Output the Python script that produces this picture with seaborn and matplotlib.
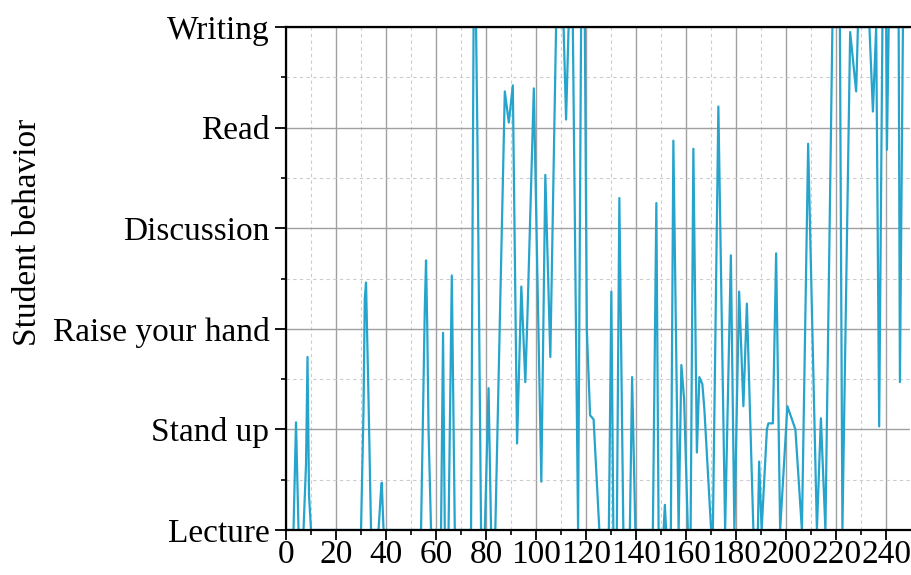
import numpy as np
import pandas as pd
import matplotlib
matplotlib.use("Agg")
import matplotlib.pyplot as plt
import seaborn as sns
from matplotlib.ticker import MultipleLocator

# Behaviour categories (y = index)
behaviors = ["Lecture", "Stand up", "Raise your hand", "Discussion", "Read", "Writing"]

# Time points and behaviour level
time = [0, 3, 4, 5, 7, 8, 8.6, 9.2, 10,
        30, 31, 31.5, 32, 33, 34, 37, 38, 38.3, 39,
        54, 55.5, 56, 56.5, 57, 58, 62, 62.8, 63.5, 65, 66.3, 67.5,
        74, 75, 76, 76.5, 78, 79.5, 81, 82, 83.7, 87.5, 89.1, 90.7, 92.4,
        94.1, 95.7, 96.5, 99.1, 102.1, 103.7, 105.7, 108, 111, 112, 113, 114.7,
        116.8, 118, 119.5, 120.3, 121.6, 123, 125.3,
        129.1, 130.1, 130.9, 132.3, 133.3, 134.9, 137.5, 138.4, 139.7,
        146.7, 148.1, 149, 151, 151.5, 152, 153.9, 154.9, 157, 158.1, 159.2, 160.7,
        161.8, 162.9, 164.3, 165.3, 166.5, 167.3, 170, 170.7, 172.9, 175.6,
        177.9, 179.3, 181.2, 182.9, 184.3, 186.9, 188.7, 189.2, 190.2,
        192.3, 192.9, 194.7, 196, 197.6, 200.5, 203.7, 206.3, 208.8,
        212.3, 213.9, 215.7, 218.5, 221.5, 222.5, 225.6, 228, 228.7,
        233.3, 234.7, 236, 237.2, 238.5, 240, 240.3, 241, 245, 245.5, 246.7, 250]
level = [0, 0, 1.07, 0, 0, 0.65, 1.72, 0.35, 0,
         0, 1.2, 2.3, 2.46, 1.3, 0, 0, 0.4, 0.47, 0,
         0, 2.2, 2.68, 2.0, 1.0, 0, 0, 1.96, 0, 0, 2.53, 0,
         0, 5, 5, 4.0, 0, 0, 1.41, 0, 0, 4.36, 4.05, 4.42, 0.86,
         2.42, 1.47, 2.09, 4.39, 0.48, 3.53, 1.72, 5, 5, 4.08, 5, 5,
         0, 5, 5, 1.99, 1.14, 1.1, 0,
         0, 2.37, 0, 0, 3.30, 0, 0, 1.52, 0,
         0, 3.25, 0, 0, 0.25, 0, 0, 3.87, 0, 1.64, 1.3, 0,
         0, 3.79, 0.77, 1.52, 1.45, 1.2, 0, 0, 4.21, 0,
         2.73, 0, 2.37, 1.23, 2.25, 0, 0, 0.68, 0,
         1.0, 1.06, 1.06, 2.75, 0, 1.23, 1.0, 0, 3.84,
         0, 1.11, 0, 5, 5, 0, 4.95, 4.36, 5,
         5, 4.16, 5, 1.03, 5, 5, 3.78, 5, 5, 1.47, 5, 5]

df = pd.DataFrame({"time": time, "level": level})

sns.set_style("ticks")
plt.rcParams["font.family"] = ["Liberation Serif", "DejaVu Serif"]
plt.rcParams["text.color"] = "black"
plt.rcParams["xtick.color"] = "black"
plt.rcParams["ytick.color"] = "black"
plt.rcParams["axes.labelcolor"] = "black"

fig = plt.figure(figsize=(9.12, 5.75), dpi=100)
ax = fig.add_axes([0.3136, 0.0783, 0.6844, 0.8747])

sns.lineplot(data=df, x="time", y="level", ax=ax, color="#26a4cc",
             linewidth=1.6, estimator=None, sort=False)

ax.set_xlim(0, 249.6)
ax.set_ylim(0, 5)
ax.set_xticks(range(0, 250, 20))
ax.xaxis.set_minor_locator(MultipleLocator(10))
ax.set_yticks(range(len(behaviors)))
ax.set_yticklabels(behaviors)
ax.yaxis.set_minor_locator(MultipleLocator(0.5))

ax.grid(which="major", color="#a0a0a0", linewidth=1.0, linestyle="-")
ax.grid(which="minor", color="#cccccc", linewidth=0.8, linestyle=(0, (3, 3)))
ax.set_axisbelow(True)

ax.tick_params(which="major", direction="out", length=8, width=1.3, labelsize=24)
ax.tick_params(which="minor", direction="out", length=3.5, width=1.2)
ax.tick_params(axis="y", which="major", pad=4)
ax.tick_params(axis="x", which="major", length=7, pad=0)

for side in ["left", "bottom", "top"]:
    ax.spines[side].set_linewidth(1.6)
    ax.spines[side].set_color("black")
ax.spines["right"].set_visible(False)

ax.set_xlabel("")
ax.set_ylabel("Student behavior", fontsize=24)
ax.yaxis.set_label_coords(-0.39, 0.592)

fig.savefig("out.png", dpi=100)
